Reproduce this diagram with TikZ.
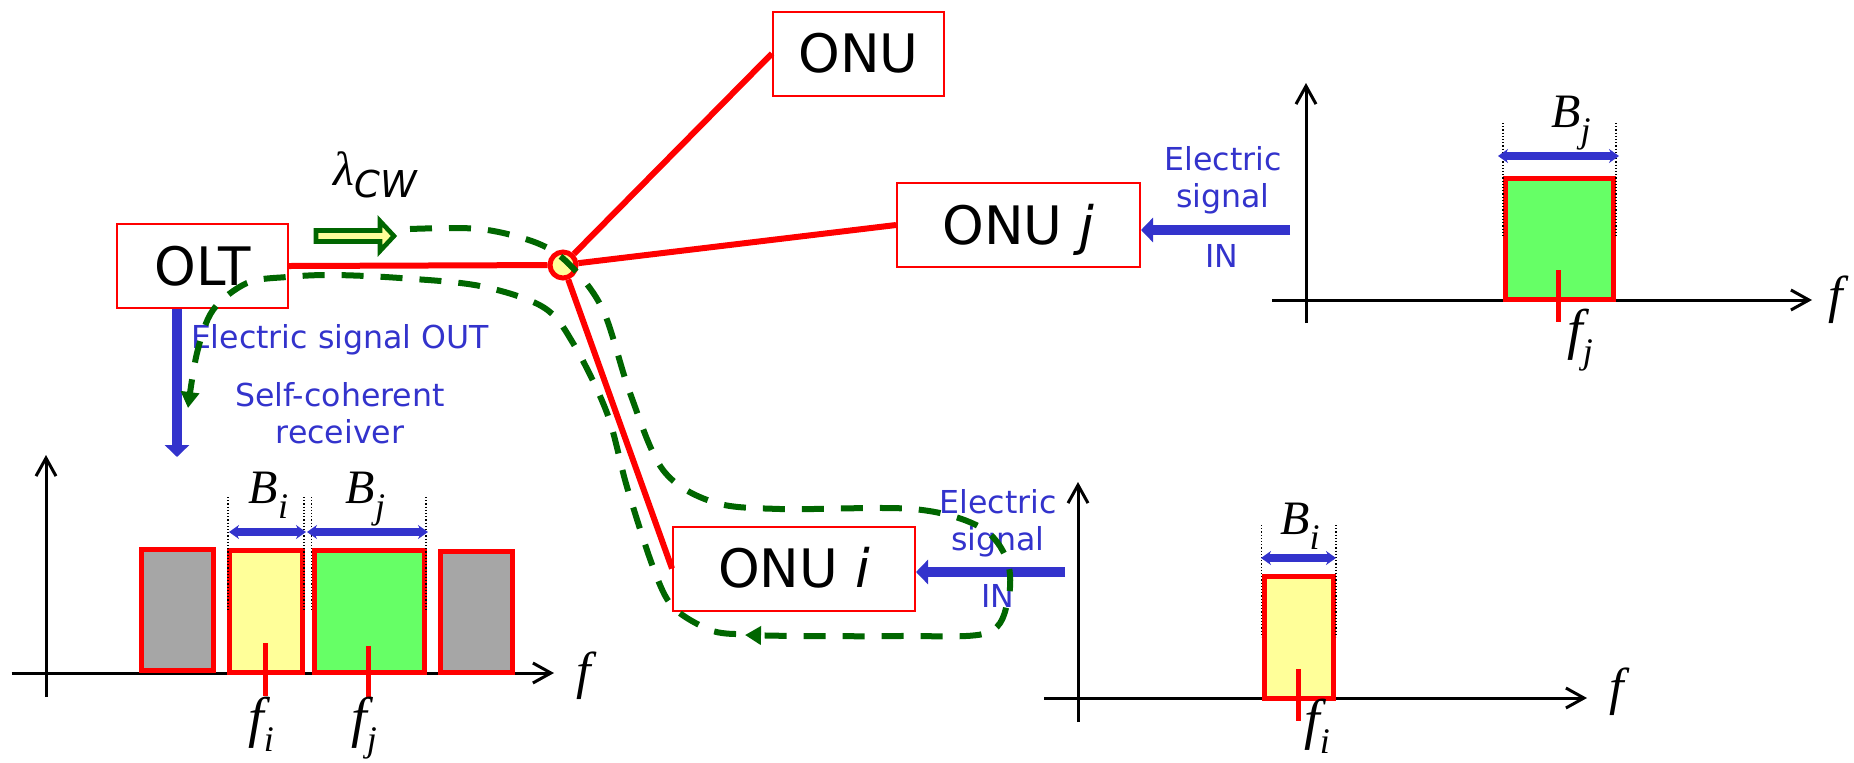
\documentclass[tikz,border=0pt]{standalone}
\usepackage{fontspec}
\setmainfont{Liberation Serif}
\setsansfont{DejaVu Sans}
\usetikzlibrary{arrows.meta,calc}
\definecolor{myred}{HTML}{FF0000}
\definecolor{myblue}{HTML}{3333CC}
\definecolor{mygreen}{HTML}{006600}
\definecolor{boxgreen}{HTML}{66FF66}
\definecolor{myyellow}{HTML}{FFFF99}
\definecolor{mygray}{HTML}{A6A6A6}
\newcommand\speclab[3]{{\itshape\fontsize{#3}{#3}\selectfont #1}\raisebox{-7.5pt}{\itshape\fontsize{18}{18}\selectfont #2}}
\newcommand\axlab{{\itshape\fontsize{26}{26}\selectfont f}}
\begin{document}
\begin{tikzpicture}[x=0.5pt,y=-0.5pt,
  boxnode/.style={draw=myred, line width=1pt, font=\sffamily\fontsize{26.5}{30}\selectfont,
    text height=19.3pt, text depth=0pt, inner sep=0pt, minimum height=42pt},
  redline/.style={draw=myred, line width=3pt},
  bluearrow/.style={draw=myblue, line width=5pt, -{Triangle[length=6pt,width=12pt]}},
  bluetext/.style={text=myblue, font=\sffamily\fontsize{15.8}{18.5}\selectfont, inner sep=0pt},
  axis/.style={draw=black, line width=1.5pt, -{Straight Barb[length=9pt,width=10pt,line width=1.5pt]}},
  spec/.style={draw=myred, line width=2.5pt},
  tickmark/.style={draw=myred, line width=2.5pt},
  dotline/.style={draw=black, line width=0.6pt, densely dotted},
  barrow/.style={draw=myblue, line width=4pt, {Stealth[length=5pt,width=7pt]}-{Stealth[length=5pt,width=7pt]}},
  gdash/.style={draw=mygreen, line width=3pt, dash pattern=on 11pt off 8.5pt},
  gtip/.style={-{Triangle[length=8pt,width=9pt]}},
  lab/.style={inner sep=0pt, anchor=base}
]
\useasboundingbox (0,0) rectangle (1854,762);

% ---- boxes ----
\node[boxnode, minimum width=85.5pt] (olt) at (202.5,266) {OLT};
\node[boxnode, minimum width=85.5pt] (onu) at (858.5,53.5) {ONU};
\node[boxnode, minimum width=121.5pt] (onuj) at (1018.5,225) {ONU \textit{j}};
\node[boxnode, minimum width=121pt] (onui) at (794,568.5) {ONU \textit{i}};

% ---- splitter and fibres ----
\node[circle, draw=myred, fill=myyellow, line width=2.5pt, minimum size=13pt, inner sep=0pt] (spl) at (563,265) {};
\draw[redline] (olt.east) -- (spl);
\draw[redline] (spl) -- (onu.west);
\draw[redline] (spl) -- (onuj.west);
\draw[redline] (spl) -- (onui.west);

% ---- lambda CW ----
\node[inner sep=0pt, anchor=base west] (lcw) at (333,185) {{\itshape\fontsize{24}{24}\selectfont λ}\raisebox{-6pt}{\sffamily\itshape\fontsize{18.5}{18.5}\selectfont CW}};
\draw[draw=mygreen, fill=myyellow, line width=2.3pt, line join=miter]
  (316,230.5) -- (380,230.5) -- (380,221) -- (394,236) -- (380,251) -- (380,241.5) -- (316,241.5) -- cycle;

% ---- OLT receiver ----
\coordinate (rxtip) at (177,457);
\draw[bluearrow] (olt.south -| rxtip) -- (rxtip);
\node[bluetext, lab] (outlab) at (340,348) {Electric signal OUT};
\node[bluetext, lab, align=center] (rxlab) at (340,443) {Self-coherent\\receiver};

% ---- ONU j input ----
\coordinate (injs) at (1290,230);
\draw[bluearrow] (injs) -- (onuj.east |- injs);
\node[bluetext, lab, align=center] (injlab) at (1223,207) {Electric\\signal};
\node[bluetext, lab] (injin) at (1222,267) {IN};

% ---- ONU i input ----
\coordinate (inis) at (1065,572);
\draw[bluearrow] (inis) -- (onui.east |- inis);
\node[bluetext, lab, align=center] (inilab) at (998,550) {Electric\\signal};
\node[bluetext, lab] (iniin) at (998,607) {IN};

% ---- bottom-left spectrum ----
\draw[axis] (11.5,673) -- (554,673);
\draw[axis] (46,697) -- (46,455);
\node[lab] (fbl) at (584,688) {\axlab};
\draw[spec, fill=mygray] (141.5,549.5) rectangle (213.5,670.5);
\draw[spec, fill=myyellow] (229.5,550.5) rectangle (302.5,672.5);
\draw[spec, fill=boxgreen] (314,550.5) rectangle (424.5,672.5);
\draw[spec, fill=mygray] (440.5,551.5) rectangle (512.5,672.5);
\draw[dotline] (228,497) -- (228,612);
\draw[dotline] (304,497) -- (304,612);
\draw[dotline] (311.5,497) -- (311.5,612);
\draw[dotline] (426,497) -- (426,612);
\draw[barrow] (229,532) -- (306,532);
\draw[barrow] (307,532) -- (428,532);
\draw[tickmark] (265,643) -- (265,696);
\draw[tickmark] (368,646) -- (368,697);
\node[lab] (bil) at (268.5,503) {\speclab{B}{i}{24}};
\node[lab] (bjl) at (365.5,503) {\speclab{B}{j}{24}};
\node[lab] (fil) at (261,736) {\speclab{f}{i}{28}};
\node[lab] (fjl) at (364,736) {\speclab{f}{j}{28}};

% ---- top-right spectrum ----
\draw[axis] (1272,300) -- (1812,300);
\draw[axis] (1306,323) -- (1306,83);
\node[lab] (ftr) at (1836,312) {\axlab};
\draw[spec, fill=boxgreen] (1505.5,178.5) rectangle (1613.5,299.5);
\draw[dotline] (1503,123) -- (1503,237);
\draw[dotline] (1616,123) -- (1616,237);
\draw[barrow] (1498,156) -- (1619,156);
\draw[tickmark] (1558,270) -- (1558,322);
\node[lab] (bjr) at (1571,127) {\speclab{B}{j}{24}};
\node[lab] (fjr) at (1580,348) {\speclab{f}{j}{28}};

% ---- bottom-right spectrum ----
\draw[axis] (1044,698) -- (1587,698);
\draw[axis] (1078,722) -- (1078,482);
\node[lab] (fbr) at (1617,704) {\axlab};
\draw[spec, fill=myyellow] (1264,576.5) rectangle (1333.5,698.5);
\draw[dotline] (1261.5,525) -- (1261.5,637);
\draw[dotline] (1336,525) -- (1336,637);
\draw[barrow] (1261,558) -- (1336,558);
\draw[tickmark] (1298,669) -- (1298,721);
\node[lab] (bir) at (1300,534) {\speclab{B}{i}{24}};
\node[lab] (fir) at (1317,738) {\speclab{f}{i}{28}};

% ---- green dashed light path ----
\draw[gdash, gtip] plot[smooth, tension=0.55] coordinates {(410,229) (480,229) (537,243) (570,265) (603,310) (630,393) (663,470) (713,502) (780,509) (913,509) (980,527) (1007,560) (1008,600) (987,633) (900,636) (800,636) (745,635)};
\draw[gdash, gtip] plot[smooth, tension=0.55] coordinates {(736,634) (710,630) (673,607) (653,567) (627,487) (607,413) (573,343) (543,307) (480,286) (400,278) (333,275) (287,277) (247,283) (213,310) (197,353) (188,408)};
\end{tikzpicture}
\end{document}
